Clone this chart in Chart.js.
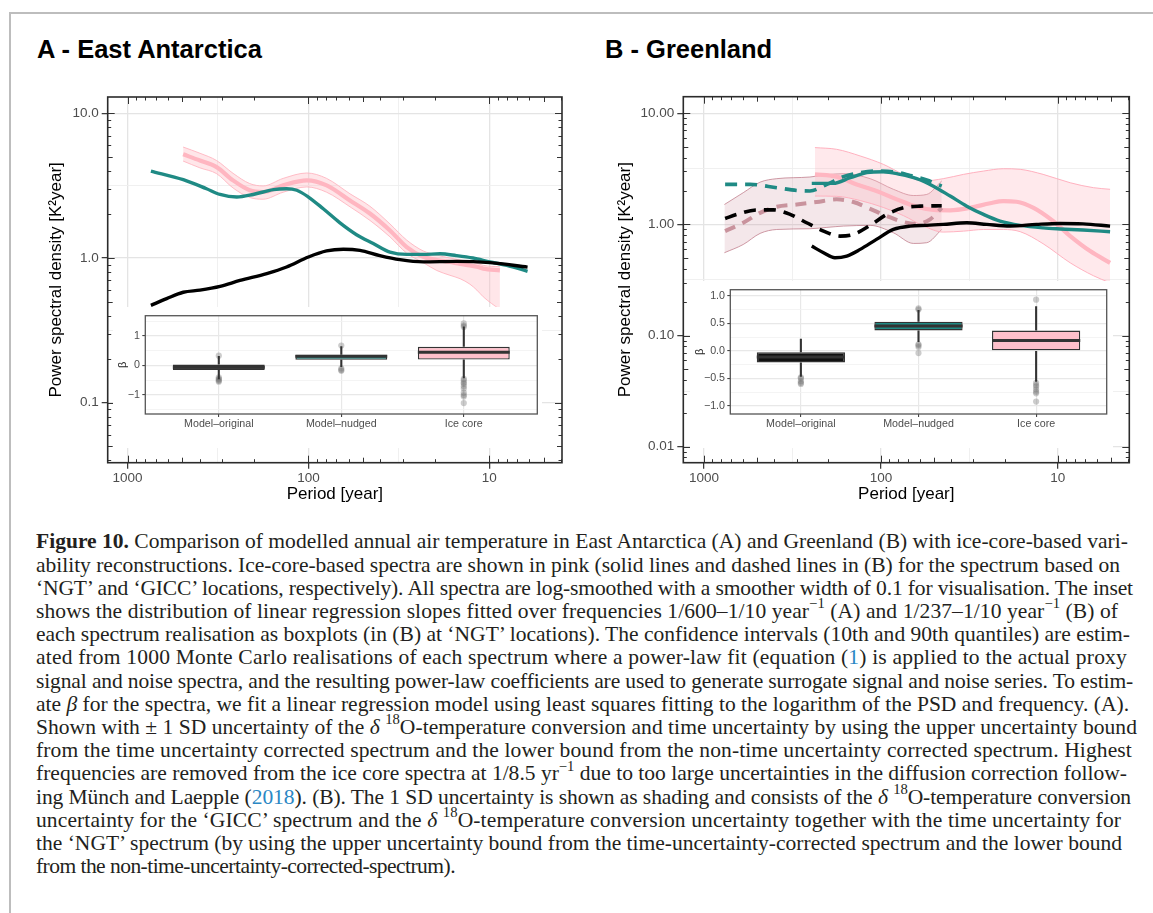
<!DOCTYPE html>
<html>
<head>
<meta charset="utf-8">
<script src="https://cdn.jsdelivr.net/npm/chart.js@4.4.1/dist/chart.umd.min.js"></script>
<style>
html,body{margin:0;padding:0;background:#fff;}
body{width:1153px;height:913px;position:relative;overflow:hidden;font-family:"Liberation Sans",Arial,sans-serif;}
#frameT{position:absolute;left:9px;top:12px;width:1144px;height:0;border-top:2px solid #bdbdbd;}
#frameL{position:absolute;left:9px;top:12px;width:0;height:901px;border-left:2px solid #bdbdbd;}
.ptitle{position:absolute;font-weight:bold;font-size:25.5px;line-height:30px;color:#000;white-space:nowrap;}
canvas{position:absolute;}
canvas.inset{background:#fff;}
#caption .ln{position:absolute;left:36px;white-space:nowrap;font-family:"Liberation Serif","Times New Roman",serif;color:#231f20;}
#caption sup{font-size:0.68em;line-height:0;position:relative;top:-0.1em;}
#caption a{color:#2a87c4;text-decoration:none;}
</style>
</head>
<body>
<div id="frameT"></div><div id="frameL"></div>
<div class="ptitle" style="left:37px;top:34px;">A - East Antarctica</div>
<div class="ptitle" style="left:605px;top:34px;">B - Greenland</div>
<canvas id="mainA" width="576" height="440" style="left:0px;top:80px;"></canvas>
<canvas id="mainB" width="576" height="440" style="left:576px;top:80px;"></canvas>
<canvas id="insetA" class="inset" width="429" height="141" style="left:113px;top:307px;"></canvas>
<canvas id="insetB" class="inset" width="423" height="167" style="left:690px;top:281px;"></canvas>
<div id="caption"></div>
<script>
// ---------------- DATA ----------------
// Panel A (East Antarctica): [period (years), PSD (K^2 year)]
const A_modelNudged = [[743,3.99],[492,3.48],[366,3.01],[308,2.75],[249,2.64],[202,2.75],[156,2.97],[132,3.01],[116,2.94],[100,2.64],[82.8,2.19],[66.9,1.75],[54.2,1.45],[43.8,1.26],[35.4,1.1],[28.6,1.06],[23.2,1.06],[18.7,1.07],[15.2,1.04],[12.3,1.0],[9.9,0.94],[8.0,0.89],[6.14,0.81]];
const A_modelOriginal = [[743,0.471],[608,0.524],[492,0.58],[398,0.60],[308,0.637],[239,0.70],[170,0.78],[132,0.867],[100,1.016],[79.4,1.12],[64.1,1.15],[51.9,1.13],[40.3,1.04],[31.2,0.974],[23.2,0.94],[15.2,0.948],[9.9,0.929],[6.14,0.866]];
const A_icePeriod = [493,398,322,261,211,178,138,102,79.3,58.9,45.7,35.4,28.6,23.2,19.5,16.5,14.5,12.8,11.7,10.8,8.73];
const A_iceMean   = [5.21,4.72,4.25,3.44,2.94,2.86,3.18,3.44,3.18,2.5,2.03,1.55,1.19,1.02,0.97,0.938,0.91,0.89,0.87,0.845,0.822];
const A_iceUpper  = [5.85,5.3,4.72,3.85,3.27,3.15,3.55,3.87,3.55,2.78,2.28,1.72,1.33,1.12,1.05,1.0,0.97,0.94,0.92,0.89,0.87];
const A_iceLower  = [4.68,4.2,3.83,3.05,2.62,2.55,2.85,3.1,2.85,2.26,1.82,1.40,1.08,0.93,0.82,0.76,0.72,0.66,0.60,0.54,0.44];

// Panel B (Greenland)
const B_nudgedNGT  = [[246,2.34],[186,2.34],[149,2.63],[120,2.92],[96.8,2.98],[78,2.82],[62.7,2.58],[50.5,2.21],[40.6,1.8],[32.7,1.46],[26.3,1.23],[21.2,1.07],[16.3,0.98],[12.1,0.93],[9.7,0.91],[7.2,0.89],[5.06,0.859]];
const B_nudgedGICC = [[760,2.29],[549,2.29],[388,2.14],[299,2.02],[252,2.0],[202,2.29],[163,2.69],[131,2.92],[106,3.02],[85,2.98],[68.4,2.76],[55.1,2.51],[45.3,2.21]];
const B_originalNGT  = [[246,0.638],[211,0.556],[182,0.501],[156,0.519],[131,0.596],[106,0.733],[85,0.901],[68.4,0.966],[55.1,0.98],[44.4,1.0],[32.7,1.035],[25.2,1.0],[18.6,0.966],[13.2,1.0],[9.7,1.02],[7.2,1.01],[5.06,0.966]];
const B_originalGICC = [[760,1.13],[653,1.23],[503,1.35],[405,1.35],[326,1.23],[263,1.035],[211,0.871],[170,0.785],[143,0.813],[115,0.98],[92.7,1.23],[74.6,1.41],[60,1.46],[45.3,1.47]];
const B_iceGICC = [[760,0.871],[600,1.035],[482,1.27],[388,1.44],[299,1.51],[231,1.59],[178,1.68],[143,1.59],[115,1.38],[92.7,1.19],[74.6,1.05],[62.7,1.01],[52.7,1.11],[45.3,1.41]];
const B_gGiccPeriod = [767,600,482,388,252,202,163,115,85,65.5,55.1,45.3];
const B_gGiccUpper  = [1.51,1.93,2.40,2.58,2.67,2.80,2.86,2.58,2.07,1.82,1.86,2.46];
const B_gGiccLower  = [0.556,0.66,0.83,0.90,0.914,0.94,0.966,0.98,0.841,0.674,0.684,0.90];
const B_ngtPeriod = [236,178,131,96.8,74.6,57.5,44.4,34.1,26.3,20.3,16.3,12.1,8.5,6.28,5.06];
const B_ngtUpper  = [4.91,4.74,4.13,3.47,2.82,2.46,2.58,2.82,3.02,3.17,3.13,2.82,2.37,2.14,2.07];
const B_ngtLower  = [1.80,1.79,1.64,1.42,1.2,0.97,0.853,0.87,0.90,0.90,0.86,0.67,0.451,0.345,0.298];
const B_iceNGT = [[236,2.82],[178,2.69],[137,2.29],[106,2.0],[81.3,1.68],[62.7,1.44],[50.5,1.35],[40.6,1.34],[31.3,1.41],[24.1,1.55],[20.3,1.62],[17.1,1.60],[13.7,1.41],[10.6,1.07],[8.5,0.785],[6.56,0.575],[5.06,0.451]];

// Tick labels
const A_xTickValues = [1000,100,10];       const A_xTickLabels = ["1000","100","10"];
const A_yTickValues = [10,1,0.1];          const A_yTickLabels = ["10.0","1.0","0.1"];
const B_xTickValues = [1000,100,10];       const B_xTickLabels = ["1000","100","10"];
const B_yTickValues = [10,1,0.1,0.01];     const B_yTickLabels = ["10.00","1.00","0.10","0.01"];

// Inset boxplots (beta)
const boxCategories = ["Model\u2013original","Model\u2013nudged","Ice core"];
const A_betaLow  = [-0.47,-0.05,-0.43];
const A_betaQ1   = [-0.15,0.19,0.20];
const A_betaMed  = [-0.06,0.31,0.45];
const A_betaQ3   = [0.03,0.36,0.63];
const A_betaHigh = [0.32,0.65,1.32];
const A_betaOutliers = [[0.33,-0.40,-0.45,-0.48,-0.52,-0.55],[0.67,-0.10,-0.15,-0.18],[1.42,1.35,1.30,-0.45,-0.50,-0.58,-0.62,-0.70,-0.78,-0.92,-1.0,-1.05,-1.27]];
const A_betaTickValues = [1,0,-1]; const A_betaTickLabels = ["1","0","\u22121"];
const B_betaLow  = [-0.47,0.16,-0.56];
const B_betaQ1   = [-0.21,0.37,0.0];
const B_betaMed  = [-0.11,0.45,0.19];
const B_betaQ3   = [-0.024,0.53,0.37];
const B_betaHigh = [0.22,0.74,0.81];
const B_betaOutliers = [[-0.48,-0.50,-0.55,-0.58,-0.60],[0.75,0.77,0.12,0.10,0.07,-0.04],[0.93,-0.58,-0.62,-0.65,-0.70,-0.74,-0.77,-0.92]];
const B_betaTickValues = [1,0.5,0,-0.5,-1]; const B_betaTickLabels = ["1.0","0.5","0.0","\u22120.5","\u22121.0"];

// ---------------- STYLE ----------------
const FONT = "'Liberation Sans', Arial, Helvetica, sans-serif";
const TEAL = '#1f8a84';
const PINK = '#ffb6c1';
const ROSE = '#c9939d';
Chart.defaults.font.family = FONT;

const pts = arr => arr.map(p => ({x:p[0], y:p[1]}));
const zip = (xs, ys) => xs.map((x,i)=>({x:x, y:ys[i]}));
const isDecade = v => Math.abs(Math.log10(v) - Math.round(Math.log10(v))) < 1e-6;

function lineDS(data, color, width, order, extra){
  return Object.assign({data:data, borderColor:color, borderWidth:width, pointRadius:0, fill:false, order:order, cubicInterpolationMode:'monotone'}, extra||{});
}

const frameLogPlugin = {
  id:'frameLog',
  afterDraw(chart){
    const {ctx, chartArea:a, scales:{x,y}} = chart;
    ctx.save();
    ctx.strokeStyle = '#333'; ctx.lineWidth = 1;
    const each = (s, cb) => {
      const lo = Math.floor(Math.log10(s.min)), hi = Math.ceil(Math.log10(s.max));
      for (let k=lo;k<=hi;k++) for (let m=1;m<=9;m++){
        const v = m*Math.pow(10,k);
        if (v < s.min || v > s.max) continue;
        cb(Math.round(s.getPixelForValue(v))+0.5, m===1?7:(m===5?5:3.5));
      }
    };
    ctx.beginPath();
    each(x,(px,L)=>{ctx.moveTo(px,a.bottom);ctx.lineTo(px,a.bottom-L);ctx.moveTo(px,a.top);ctx.lineTo(px,a.top+L);});
    each(y,(py,L)=>{ctx.moveTo(a.left,py);ctx.lineTo(a.left+L,py);ctx.moveTo(a.right,py);ctx.lineTo(a.right-L,py);});
    ctx.stroke();
    ctx.lineWidth = 1.6; ctx.strokeStyle = '#2b2b2b';
    ctx.strokeRect(a.left, a.top, a.right-a.left, a.bottom-a.top);
    ctx.restore();
  }
};
const insetFramePlugin = {
  id:'insetFrame',
  afterDraw(chart){
    const {ctx, chartArea:a} = chart;
    ctx.save(); ctx.strokeStyle = '#555'; ctx.lineWidth = 1.3;
    ctx.strokeRect(a.left, a.top, a.right-a.left, a.bottom-a.top);
    ctx.restore();
  }
};

function logAxis(conf){
  const minors = [];
  for (let k=-3;k<=4;k++){ minors.push(Math.pow(10,k)); minors.push(Math.pow(10,k+0.5)); }
  return {
    type:'logarithmic', reverse:!!conf.reverse, position:conf.position, min:conf.min, max:conf.max,
    afterBuildTicks: s => { s.ticks = minors.filter(v=>v>=s.min && v<=s.max).sort((p,q)=>q-p).map(v=>({value:v})); },
    afterFit: conf.fit,
    border:{display:false},
    grid:{
      color: c => (c.tick && isDecade(c.tick.value)) ? '#e4e4e4' : '#eeeeee',
      lineWidth: c => (c.tick && isDecade(c.tick.value)) ? 1.3 : 0.9,
      tickLength: 6, tickWidth: 1.2,
      tickColor: c => (c.tick && isDecade(c.tick.value)) ? '#333' : 'rgba(0,0,0,0)'
    },
    ticks:{
      autoSkip:false, maxRotation:0, minRotation:0, color:'#4d4d4d', font:{size:13.5, family:FONT}, padding:conf.tickPad,
      callback: v => { const i = conf.values.findIndex(t => Math.abs(Math.log10(t)-Math.log10(v))<1e-6); return i>=0 ? conf.labels[i] : ''; }
    },
    title:{display:true, text:conf.title, color:'#000', font:{size:17, family:FONT}, padding:conf.titlePad}
  };
}

function buildMain(id, datasets, ax, ay, pad){
  return new Chart(document.getElementById(id), {
    type:'line',
    data:{datasets:datasets},
    options:{
      responsive:false, animation:false, devicePixelRatio:1, events:[],
      layout:{padding:pad},
      plugins:{legend:{display:false}, tooltip:{enabled:false}},
      elements:{point:{radius:0}},
      scales:{x:logAxis(ax), y:logAxis(ay)}
    },
    plugins:[frameLogPlugin]
  });
}

// Panel A
buildMain('mainA', [
  lineDS(zip(A_icePeriod, A_iceUpper), 'rgba(255,182,193,0.9)', 1, 6, {fill:'+1', backgroundColor:'rgba(255,182,193,0.35)'}),
  lineDS(zip(A_icePeriod, A_iceLower), 'rgba(255,182,193,0.9)', 1, 6),
  lineDS(zip(A_icePeriod, A_iceMean), PINK, 4.2, 4),
  lineDS(pts(A_modelNudged), TEAL, 3.4, 2),
  lineDS(pts(A_modelOriginal), '#000', 3.4, 1)
],
{min:3.96, max:1288, reverse:true, position:'bottom', values:A_xTickValues, labels:A_xTickLabels, tickPad:1.5,
 title:'Period [year]', titlePad:{top:0,bottom:15}, fit: s => { s.height = 57.3; }},
{min:0.0385, max:12.97, position:'left', values:A_yTickValues, labels:A_yTickLabels, tickPad:3,
 title:'Power spectral density [K\u00b2year]', titlePad:{top:46.5,bottom:0}, fit: s => { s.width = 107.7; }},
{left:0, top:17, right:14, bottom:0});

// Panel B
buildMain('mainB', [
  lineDS(zip(B_gGiccPeriod, B_gGiccUpper), 'rgba(190,120,135,0.75)', 1, 8, {fill:'+1', backgroundColor:'rgba(200,135,150,0.2)'}),
  lineDS(zip(B_gGiccPeriod, B_gGiccLower), 'rgba(190,120,135,0.75)', 1, 8),
  lineDS(zip(B_ngtPeriod, B_ngtUpper), 'rgba(255,170,185,0.9)', 1, 7, {fill:'+1', backgroundColor:'rgba(255,182,193,0.3)'}),
  lineDS(zip(B_ngtPeriod, B_ngtLower), 'rgba(255,170,185,0.9)', 1, 7),
  lineDS(pts(B_iceNGT), PINK, 4.2, 6),
  lineDS(pts(B_iceGICC), ROSE, 4, 5, {borderDash:[11,8]}),
  lineDS(pts(B_nudgedGICC), TEAL, 3.6, 4, {borderDash:[12,8]}),
  lineDS(pts(B_nudgedNGT), TEAL, 3.4, 3),
  lineDS(pts(B_originalGICC), '#000', 3.6, 2, {borderDash:[12,8]}),
  lineDS(pts(B_originalNGT), '#000', 3.4, 1)
],
{min:3.94, max:1310, reverse:true, position:'bottom', values:B_xTickValues, labels:B_xTickLabels, tickPad:1.5,
 title:'Period [year]', titlePad:{top:0,bottom:15}, fit: s => { s.height = 57.3; }},
{min:0.00717, max:14.1, position:'left', values:B_yTickValues, labels:B_yTickLabels, tickPad:3,
 title:'Power spectral density [K\u00b2year]', titlePad:{top:38.8,bottom:0}, fit: s => { s.width = 107.3; }},
{left:0, top:16.7, right:22.7, bottom:0});

// Insets
function buildInset(id, c){
  const half = 0.375;
  const boxData = boxCategories.map((_,i)=>({x:i, y:[c.q1[i], c.q3[i]]}));
  const medData = [], whData = [], outData = [];
  boxCategories.forEach((_,i)=>{
    medData.push({x:i-half,y:c.med[i]},{x:i+half,y:c.med[i]},{x:i+half,y:null});
    whData.push({x:i,y:c.q3[i]},{x:i,y:c.hi[i]},{x:i,y:null},{x:i,y:c.q1[i]},{x:i,y:c.lo[i]},{x:i,y:null});
    c.out[i].forEach(v=>outData.push({x:i,y:v}));
  });
  const majorSet = c.tickValues;
  const isMaj = v => majorSet.some(t=>Math.abs(t-v)<1e-9);
  return new Chart(document.getElementById(id), {
    type:'bar',
    data:{datasets:[
      {type:'bar', data:boxData, backgroundColor:['#111111', TEAL, '#ffc0cb'], borderColor:'#333', borderWidth:1.4, borderSkipped:false, barPercentage:0.75, categoryPercentage:1, order:2},
      {type:'line', data:medData, borderColor:'#333', borderWidth:3, pointRadius:0, spanGaps:false, tension:0, order:1},
      {type:'line', data:whData, borderColor:'#333', borderWidth:2.1, pointRadius:0, spanGaps:false, tension:0, order:3},
      {type:'line', data:outData, showLine:false, pointRadius:3.1, pointBorderWidth:0, pointBackgroundColor:'rgba(110,110,110,0.35)', order:4}
    ]},
    options:{
      responsive:false, animation:false, devicePixelRatio:1, events:[],
      layout:{padding:c.pad},
      plugins:{legend:{display:false}, tooltip:{enabled:false}},
      scales:{
        x:{type:'linear', min:-0.6, max:2.6, offset:false, border:{display:false},
           afterBuildTicks: s => { s.ticks = [0,1,2].map(v=>({value:v})); },
           afterFit: s => { s.height = 34; },
           grid:{offset:false, color:'#e8e8e8', lineWidth:1.2, tickLength:3, tickColor:'#333', tickWidth:1},
           ticks:{autoSkip:false, maxRotation:0, color:'#4d4d4d', font:{size:10.7, family:FONT}, padding:1, callback: v => boxCategories[Math.round(v)]}
        },
        y:{type:'linear', min:c.min, max:c.max, beginAtZero:false, border:{display:false},
           afterBuildTicks: s => { s.ticks = c.allTicks.map(v=>({value:v})); },
           afterFit: s => { s.width = c.yWidth; },
           grid:{color: g => (g.tick && isMaj(g.tick.value)) ? '#e8e8e8' : '#f1f1f1',
                 lineWidth: g => (g.tick && isMaj(g.tick.value)) ? 1.2 : 0.8,
                 tickLength:3, tickWidth:1,
                 tickColor: g => (g.tick && isMaj(g.tick.value)) ? '#333' : 'rgba(0,0,0,0)'},
           ticks:{autoSkip:false, color:'#4d4d4d', font:{size:10.7, family:FONT}, padding:2.3,
                  callback: v => { const i = c.tickValues.findIndex(t=>Math.abs(t-v)<1e-9); return i>=0 ? c.tickLabels[i] : ''; }},
           title:{display:true, text:'\u03b2', color:'#222', font:{size:11, family:FONT}, padding:{top:3.4,bottom:0}}
        }
      }
    },
    plugins:[insetFramePlugin]
  });
}

buildInset('insetA', {q1:A_betaQ1, med:A_betaMed, q3:A_betaQ3, lo:A_betaLow, hi:A_betaHigh, out:A_betaOutliers,
  min:-1.64, max:1.68, tickValues:A_betaTickValues, tickLabels:A_betaTickLabels, allTicks:[1.5,1,0.5,0,-0.5,-1,-1.5],
  yWidth:32.3, pad:{left:0, top:6.3, right:4.7, bottom:0}});
buildInset('insetB', {q1:B_betaQ1, med:B_betaMed, q3:B_betaQ3, lo:B_betaLow, hi:B_betaHigh, out:B_betaOutliers,
  min:-1.145, max:1.11, tickValues:B_betaTickValues, tickLabels:B_betaTickLabels, allTicks:[1,0.75,0.5,0.25,0,-0.25,-0.5,-0.75,-1],
  yWidth:40.3, pad:{left:0, top:8.3, right:6.3, bottom:0}});

// ---------------- CAPTION ----------------
const captionLines = [
 "<b>Figure 10.</b> Comparison of modelled annual air temperature in East Antarctica (A) and Greenland (B) with ice-core-based vari-",
 "ability reconstructions. Ice-core-based spectra are shown in pink (solid lines and dashed lines in (B) for the spectrum based on",
 "\u2018NGT\u2019 and \u2018GICC\u2019 locations, respectively). All spectra are log-smoothed with a smoother width of 0.1 for visualisation. The inset",
 "shows the distribution of linear regression slopes fitted over frequencies 1/600\u20131/10 year<sup>\u22121</sup> (A) and 1/237\u20131/10 year<sup>\u22121</sup> (B) of",
 "each spectrum realisation as boxplots (in (B) at \u2018NGT\u2019 locations). The confidence intervals (10th and 90th quantiles) are estim-",
 "ated from 1000 Monte Carlo realisations of each spectrum where a power-law fit (equation (<a>1</a>) is applied to the actual proxy",
 "signal and noise spectra, and the resulting power-law coefficients are used to generate surrogate signal and noise series. To estim-",
 "ate <i>\u03b2</i> for the spectra, we fit a linear regression model using least squares fitting to the logarithm of the PSD and frequency. (A).",
 "Shown with \u00b1 1 SD uncertainty of the <i>\u03b4</i> <sup>18</sup>O-temperature conversion and time uncertainty by using the upper uncertainty bound",
 "from the time uncertainty corrected spectrum and the lower bound from the non-time uncertainty corrected spectrum. Highest",
 "frequencies are removed from the ice core spectra at 1/8.5 yr<sup>\u22121</sup> due to too large uncertainties in the diffusion correction follow-",
 "ing M\u00fcnch and Laepple (<a>2018</a>). (B). The 1 SD uncertainty is shown as shading and consists of the <i>\u03b4</i> <sup>18</sup>O-temperature conversion",
 "uncertainty for the \u2018GICC\u2019 spectrum and the <i>\u03b4</i> <sup>18</sup>O-temperature conversion uncertainty together with the time uncertainty for",
 "the \u2018NGT\u2019 spectrum (by using the upper uncertainty bound from the time-uncertainty-corrected spectrum and the lower bound",
 "from the non-time-uncertainty-corrected-spectrum)."
];
const captionLineEnds = [1128,1120,1133,1118,1130,1127,1133,1129,1137,1132,1127,1131,1121,1122,455];
(function(){
  const cap = document.getElementById('caption');
  captionLines.forEach(h => { const d = document.createElement('div'); d.className='ln'; d.innerHTML = h; cap.appendChild(d); });
  const first = cap.children[0];
  first.style.fontSize = '20px';
  const w = first.getBoundingClientRect().width;
  const fs = 20 * (captionLineEnds[0]-36) / w;
  const lh = 23.2, asc = 0.891*fs, desc = 0.216*fs;
  Array.from(cap.children).forEach((d,i) => {
    d.style.fontSize = fs + 'px';
    d.style.lineHeight = lh + 'px';
    d.style.top = (549.3 + i*lh - (lh-(asc+desc))/2 - asc) + 'px';
    const nat = d.getBoundingClientRect().width;
    const n = d.textContent.length;
    const ls = ((captionLineEnds[i]-36) - nat) / n;
    d.style.letterSpacing = ls.toFixed(3) + 'px';
  });
})();
</script>
</body>
</html>
